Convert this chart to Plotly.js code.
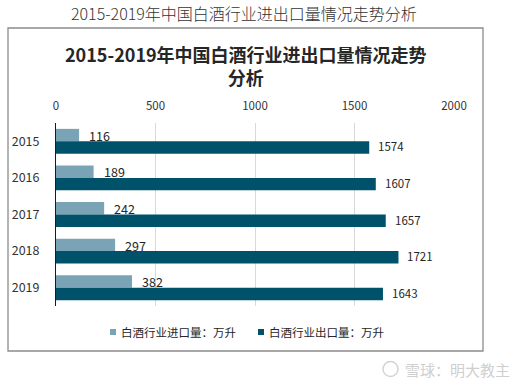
<!DOCTYPE html>
<html><head><meta charset="utf-8">
<script src="https://cdn.plot.ly/plotly-3.0.1.min.js"></script>
<style>html,body{margin:0;padding:0;background:#fff}#chart{width:531px;height:385px}</style>
</head><body><div id="chart"></div>
<script>
const years = ['2015','2016','2017','2018','2019'];
const importVol = [116,189,242,297,382];
const exportVol = [1574,1607,1657,1721,1643];
const seriesNames = ['白酒行业进口量：万升','白酒行业出口量：万升'];
const xTicks = [0,500,1000,1500,2000];
const pageTitle = '2015-2019年中国白酒行业进出口量情况走势分析';
const chartTitle = '2015-2019年中国白酒行业进出口量情况走势<br>分析';
const watermark = '雪球：明大教主';

const W=531,H=385,L=56,R=454,T=123,B=306;
const px = x => (x-L)/(R-L);
const py = y => (B-y)/(B-T);
const FONT = 'Noto Sans CJK SC, sans-serif';
const colors = ['#7AA3B5','#00526B'];

const traces = [
  {type:'bar', orientation:'h', name:seriesNames[0], y:years, x:importVol,
   marker:{color:colors[0]}, hoverinfo:'x'},
  {type:'bar', orientation:'h', name:seriesNames[1], y:years, x:exportVol,
   marker:{color:colors[1]}, hoverinfo:'x'}
];

const annotations = [];
importVol.forEach((v,i)=>annotations.push({x:v,y:i,xref:'x',yref:'y',text:String(v),
  showarrow:false,xanchor:'left',yanchor:'middle',xshift:8,yshift:6,font:{family:FONT,size:12.5,color:'#262626'}}));
exportVol.forEach((v,i)=>annotations.push({x:v,y:i,xref:'x',yref:'y',text:String(v),
  showarrow:false,xanchor:'left',yanchor:'middle',xshift:7,yshift:-5,font:{family:FONT,size:11.5,color:'#262626'}}));

// titles
annotations.push({xref:'paper',yref:'paper',x:px(243.5),y:py(13),text:pageTitle,showarrow:false,
  xanchor:'center',yanchor:'middle',font:{family:FONT,size:16,color:'#333',weight:300}});
annotations.push({xref:'paper',yref:'paper',x:px(246),y:py(65.5),text:chartTitle,showarrow:false,
  xanchor:'center',yanchor:'middle',font:{family:FONT,size:18,color:'#262626',weight:'bold'}});

// custom legend
const legX = [110,258];
const shapes = [
  {type:'rect',xref:'paper',yref:'paper',x0:px(8),x1:px(483),y0:py(28),y1:py(351),
   line:{color:'#8c8c8c',width:1.3},fillcolor:'rgba(0,0,0,0)',layer:'below'}
];
seriesNames.forEach((n,i)=>{
  shapes.push({type:'rect',xref:'paper',yref:'paper',x0:px(legX[i]),x1:px(legX[i]+6),y0:py(335),y1:py(329),
    line:{width:0},fillcolor:colors[i]});
  annotations.push({xref:'paper',yref:'paper',x:px(legX[i]+9),y:py(332),text:n,showarrow:false,
    xanchor:'left',yanchor:'middle',font:{family:FONT,size:11.5,color:'#262626'}});
});

// watermark
shapes.push({type:'circle',xref:'paper',yref:'paper',x0:px(383),x1:px(398),y0:py(376.5),y1:py(361.5),
  line:{color:'#d4d4d4',width:1.5}});
annotations.push({xref:'paper',yref:'paper',x:px(403),y:py(369),text:watermark,showarrow:false,
  xanchor:'left',yanchor:'middle',font:{family:FONT,size:15,color:'#cfcfcf'}});

const layout = {
  width:W,height:H,margin:{l:L,r:W-R,t:T,b:H-B,pad:0},
  paper_bgcolor:'#fff',plot_bgcolor:'#fff',
  showlegend:false,barmode:'group',bargap:0.32,bargroupgap:0,
  font:{family:FONT,color:'#333'},
  xaxis:{side:'top',range:[0,2000],tickvals:xTicks,ticktext:xTicks.map(String),
    showgrid:true,gridcolor:'#d9d9d9',gridwidth:1,zeroline:false,ticks:'',
    ticklabelstandoff:10,tickfont:{family:FONT,size:11.5,color:'#333'},fixedrange:true},
  yaxis:{type:'category',range:[years.length-0.5,-0.5],showgrid:false,zeroline:false,ticks:'',
    showline:true,linecolor:'#1a1a1a',linewidth:1,
    ticklabelstandoff:13,tickfont:{family:FONT,size:12.5,color:'#333'},fixedrange:true},
  shapes:shapes,annotations:annotations
};
Plotly.newPlot('chart',traces,layout,{displayModeBar:false,staticPlot:true});
</script></body></html>
